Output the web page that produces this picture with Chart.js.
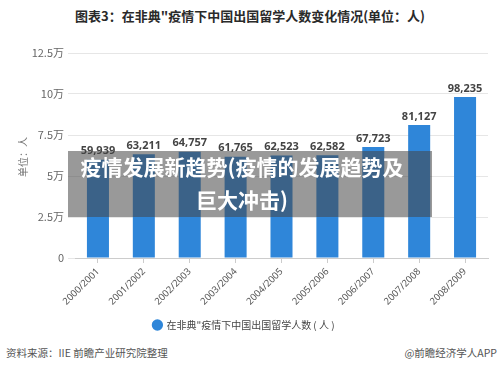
<!DOCTYPE html>
<html>
<head>
<meta charset="utf-8">
<script src="https://cdn.jsdelivr.net/npm/chart.js@4"></script>
<style>
  body { margin: 0; background: #fff; font-family: "Noto Sans CJK SC", "Noto Sans", sans-serif; }
  #wrap { position: relative; width: 500px; height: 370px; overflow: hidden; }
  #title { position: absolute; left: 0; top: 6px; width: 500px; text-align: center; font-size: 13px; font-weight: bold; color: #2a2a2a; }
  #chartBox { position: absolute; left: 0; top: 30px; width: 500px; height: 310px; }
  #ylab { position: absolute; left: 15px; top: 177px; font-size: 10px; color: #777; transform: rotate(-90deg); transform-origin: left top; white-space: nowrap; }
  #veil { position: absolute; left: 68px; top: 151px; width: 364px; height: 66px; background: rgba(70,70,70,0.55); }
  #veilText { position: absolute; left: 70px; top: 150px; width: 344px; text-align: center; color: #fff; font-weight: bold; font-size: 21px; line-height: 33px; }
  .foot { position: absolute; top: 345px; font-size: 10.5px; color: #555; }
</style>
</head>
<body>
<div id="wrap">
  <div id="title">图表3：在非典"疫情下中国出国留学人数变化情况(单位：人)</div>
  <div id="chartBox"><canvas id="chartTeste"></canvas></div>
  <div id="ylab">单位：人</div>
  <div id="veil"></div>
  <div id="veilText">疫情发展新趋势(疫情的发展趋势及<br>巨大冲击)</div>
  <div class="foot" style="left:6px">资料来源：IIE 前瞻产业研究院整理</div>
  <div class="foot" style="right:3px">@前瞻经济学人APP</div>
</div>
<script>
const years = ['2000/2001','2001/2002','2002/2003','2003/2004','2004/2005','2005/2006','2006/2007','2007/2008','2008/2009']
const students = [59939, 63211, 64757, 61765, 62523, 62582, 67723, 81127, 98235]
const yTicks = [0, 25000, 50000, 75000, 100000, 125000]
const yTickLabels = ['0', '2.5万', '5万', '7.5万', '10万', '12.5万']

// numbers above the bars
const barLabels = {
  id: 'barLabels',
  afterDatasetsDraw(chart) {
    const ctx = chart.ctx
    const meta = chart.getDatasetMeta(0)
    ctx.save()
    ctx.font = 'bold 11px "Noto Sans", "DejaVu Sans", sans-serif'
    ctx.fillStyle = '#444'
    ctx.textAlign = 'center'
    ctx.textBaseline = 'bottom'
    meta.data.forEach((bar, i) => {
      ctx.fillText(students[i].toLocaleString('en-US'), bar.x, bar.y - 3)
    })
    ctx.restore()
  }
}

const ctx = document.getElementById('chartTeste')
const myChart = new Chart(ctx, {
  type: 'bar',
  data: {
    labels: years,
    datasets: [{
      label: '在非典"疫情下中国出国留学人数 ( 人 )',
      data: students,
      backgroundColor: '#2f86d9',
      borderWidth: 0,
      categoryPercentage: 1,
      barPercentage: 0.48
    }]
  },
  options: {
    responsive: true,
    maintainAspectRatio: false,
    animation: false,
    layout: { padding: { top: 23, right: 12, bottom: 0, left: 0 } },
    plugins: {
      tooltip: { enabled: false },
      legend: {
        position: 'bottom',
        labels: {
          usePointStyle: true,
          pointStyle: 'circle',
          boxWidth: 8,
          boxHeight: 8,
          padding: 10,
          color: '#444',
          font: { size: 10, family: '"Noto Sans CJK SC", sans-serif' }
        }
      }
    },
    scales: {
      x: {
        grid: { drawOnChartArea: false, offset: false, tickLength: 5, color: '#ccc' },
        border: { color: '#ccc' },
        ticks: {
          color: '#555',
          maxRotation: 45,
          minRotation: 45,
          font: { size: 9.5, family: '"Noto Sans", sans-serif' }
        },
        afterFit(scale) { scale.height = 52 }
      },
      y: {
        min: 0,
        max: 125000,
        afterBuildTicks(scale) { scale.ticks = yTicks.map(v => ({ value: v })) },
        grid: { color: '#e6e6e6', tickLength: 7 },
        border: { display: false },
        ticks: {
          color: '#666',
          padding: 4,
          font: { size: 11, family: '"Noto Sans CJK SC", sans-serif' },
          callback: (v) => yTickLabels[yTicks.indexOf(v)]
        },
        afterFit(scale) { scale.width = 75 }
      }
    }
  },
  plugins: [barLabels]
})
</script>
</body>
</html>
